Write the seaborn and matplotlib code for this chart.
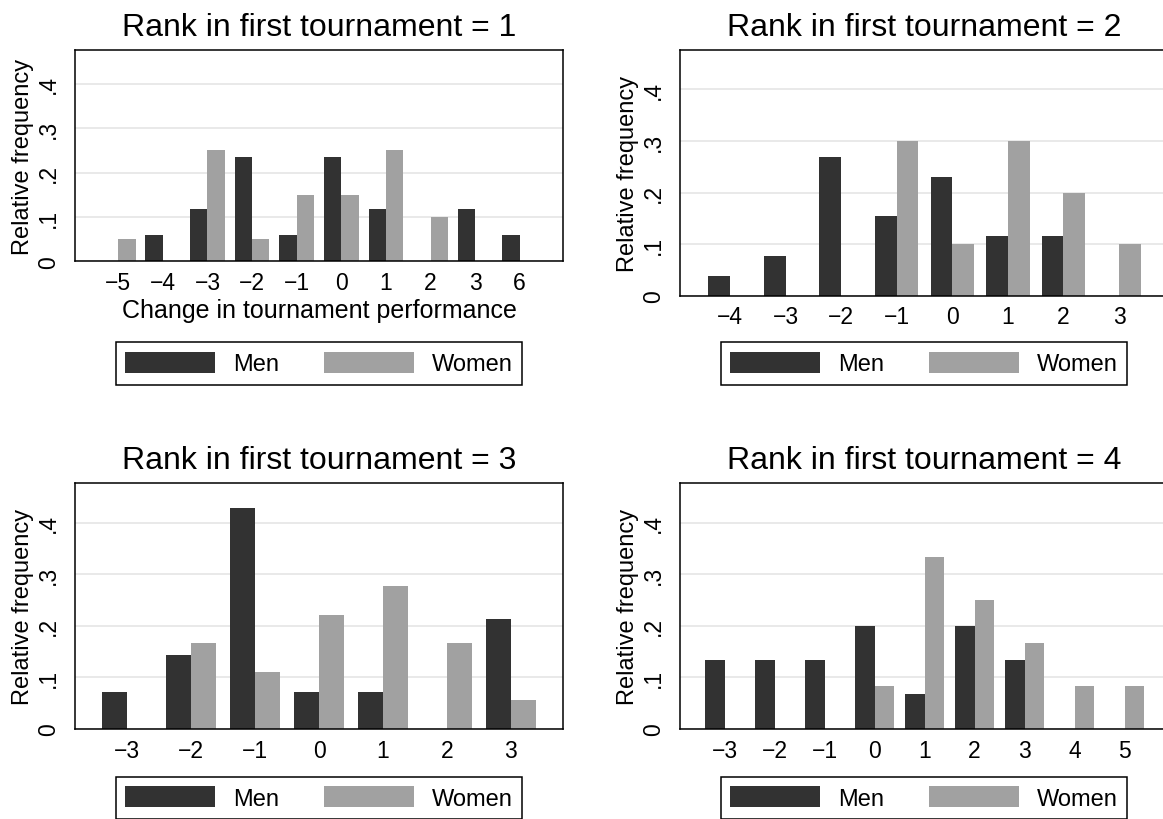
import numpy as np
import pandas as pd
import matplotlib
matplotlib.use("Agg")
import matplotlib.pyplot as plt
from matplotlib.patches import Patch
import seaborn as sns

# ── data: relative frequency of change in tournament performance ──────────
change_r1 = [-5, -4, -3, -2, -1, 0, 1, 2, 3, 6]
men_r1 = [0.0, 0.059, 0.118, 0.235, 0.059, 0.235, 0.118, 0.0, 0.118, 0.059]
women_r1 = [0.05, 0.0, 0.25, 0.05, 0.15, 0.15, 0.25, 0.10, 0.0, 0.0]

change_r2 = [-4, -3, -2, -1, 0, 1, 2, 3]
men_r2 = [0.038, 0.077, 0.269, 0.154, 0.231, 0.115, 0.115, 0.0]
women_r2 = [0.0, 0.0, 0.0, 0.30, 0.10, 0.30, 0.20, 0.10]

change_r3 = [-3, -2, -1, 0, 1, 2, 3]
men_r3 = [0.071, 0.143, 0.429, 0.071, 0.071, 0.0, 0.214]
women_r3 = [0.0, 0.167, 0.111, 0.222, 0.278, 0.167, 0.056]

change_r4 = [-3, -2, -1, 0, 1, 2, 3, 4, 5]
men_r4 = [0.133, 0.133, 0.133, 0.200, 0.067, 0.200, 0.133, 0.0, 0.0]
women_r4 = [0.0, 0.0, 0.0, 0.083, 0.333, 0.250, 0.167, 0.083, 0.083]

ranks = [1, 2, 3, 4]
sexes = ["Men", "Women"]
ytick_vals = [0, 0.1, 0.2, 0.3, 0.4]
ytick_labels = ["0", ".1", ".2", ".3", ".4"]

panels = [
    (change_r1, men_r1, women_r1),
    (change_r2, men_r2, women_r2),
    (change_r3, men_r3, women_r3),
    (change_r4, men_r4, women_r4),
]

# ── layout (pixels, figure is 1163 x 820) ─────────────────────────────────
W, H = 1163, 820
boxes = [(75, 50.7, 563, 262.3), (680, 50.7, 1169, 296.7),
         (75, 484, 563, 730), (680, 484, 1169, 730)]
legend_centres = [(319, 364.5), (924, 364.5), (319, 799), (924, 799)]
x_margins = [0.97, 0.90, 0.82, 0.89]
palette = {"Men": "#323232", "Women": "#a1a1a1"}

sns.set_style("white")
plt.rcParams["font.family"] = ["Liberation Sans", "DejaVu Sans"]
plt.rcParams.update({"text.color": "black", "axes.labelcolor": "black",
                     "xtick.color": "black", "ytick.color": "black"})


def fmt(v):
    return str(v).replace("-", "\u2212")


fig = plt.figure(figsize=(W / 100, H / 100), dpi=100)

for i, (changes, men, women) in enumerate(panels):
    x0, y0, x1, y1 = boxes[i]
    ax = fig.add_axes([x0 / W, 1 - y1 / H, (x1 - x0) / W, (y1 - y0) / H])

    labels = [fmt(c) for c in changes]
    df = pd.DataFrame({
        "change": labels * 2,
        "sex": ["Men"] * len(labels) + ["Women"] * len(labels),
        "freq": list(men) + list(women),
    })
    sns.barplot(data=df, x="change", y="freq", hue="sex", order=labels,
                hue_order=sexes, palette=palette, width=0.78, saturation=1,
                errorbar=None, linewidth=0, legend=False, ax=ax)

    n = len(labels)
    ax.set_xlim(-x_margins[i], n - 1 + x_margins[i])
    ax.set_ylim(0, 0.477)
    ax.set_yticks(ytick_vals)
    ax.set_yticklabels(ytick_labels, rotation=90, va="center", fontsize=16.5)
    ax.tick_params(axis="y", length=5.8, width=1.1, pad=5, color="black")
    ax.tick_params(axis="x", length=0, pad=7, labelsize=16.5)

    ax.grid(axis="y", color="#e3e3e3", lw=1.1)
    ax.grid(axis="x", visible=False)
    ax.set_axisbelow(True)
    for sp in ax.spines.values():
        sp.set_visible(True)
        sp.set_color("black")
        sp.set_linewidth(1.1)

    ax.set_ylabel("Relative frequency", fontsize=17, labelpad=2)
    if i == 0:
        ax.set_xlabel("Change in tournament performance", fontsize=18,
                      labelpad=3)
    else:
        ax.set_xlabel("")
    ax.set_title(f"Rank in first tournament = {ranks[i]}", fontsize=23,
                 pad=10.5)

    handles = [Patch(facecolor=palette[s], edgecolor="none", label=s)
               for s in sexes]
    cx, cy = legend_centres[i]
    leg = fig.legend(handles=handles, loc="center", ncol=2,
                     bbox_to_anchor=(cx / W, 1 - cy / H),
                     bbox_transform=fig.transFigure, fontsize=17,
                     handlelength=3.8, handleheight=1.0, handletextpad=0.76,
                     columnspacing=1.9, borderpad=0.4, fancybox=False,
                     framealpha=1, edgecolor="black")
    leg.get_frame().set_linewidth(1.1)

fig.savefig("out.png", dpi=100)
